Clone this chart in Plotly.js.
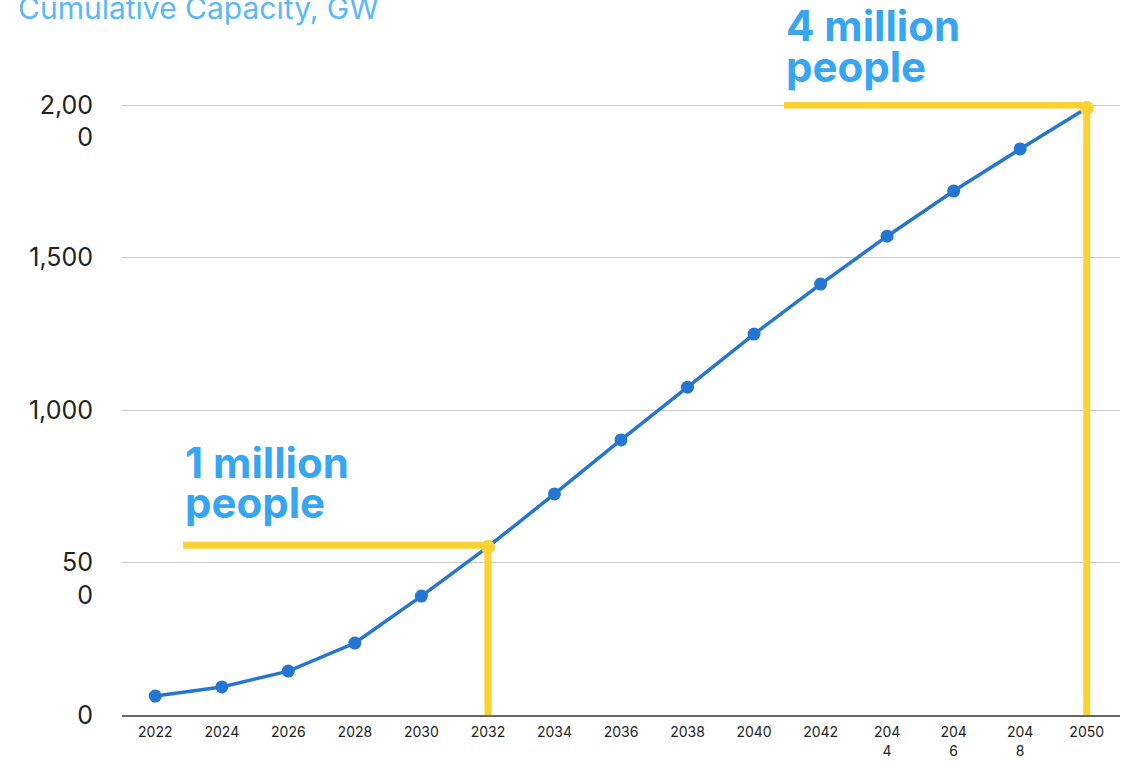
<!DOCTYPE html>
<html>
<head>
<meta charset="utf-8">
<script src="https://cdn.plot.ly/plotly-3.0.1.min.js"></script>
<style>html,body{margin:0;padding:0;background:#fff;}#chart{width:1126px;height:761px;}</style>
</head>
<body>
<div id="chart"></div>
<script>
// ---- data ----
const years = ['2022','2024','2026','2028','2030','2032','2034','2036','2038','2040','2042','2044','2046','2048','2050'];
const yearTickText = ['2022','2024','2026','2028','2030','2032','2034','2036','2038','2040','2042','204<br>4','204<br>6','204<br>8','2050'];
const capacityGW = [62, 92, 144, 236, 390, 551, 725, 902, 1075, 1249, 1413, 1570, 1718, 1856, 1990];
const yTickVals = [0, 500, 1000, 1500, 2000];
const yTickText = ['0', '\u00a0<br>50<br>0', '1,000', '1,500', '\u00a0<br>2,00<br>0'];
const milestoneYears = ['2032', '2050'];
const milestoneLevels = [557, 2000];
const milestoneLine1 = ['1 million', '4 million'];
const milestoneLine2 = ['people', 'people'];

const blue = '#2576D2';
const yellow = '#FCD232';
const labelBlue = '#36A5F2';

const milestoneIdx = milestoneYears.map(y => years.indexOf(y));
const milestoneCap = milestoneYears.map(y => capacityGW[years.indexOf(y)]);

// layout-only positions
const guideStart = [0.42, 9.45];          // category-index units
const plotTop = 102, plotBottom = 715;    // px
const pxToPaper = p => (plotBottom - p) / (plotBottom - plotTop);
const line1Top = [435, -2];               // px, top of annotation box
const line2Top = [475, 39];

const shapes = [];
milestoneIdx.forEach((ix, i) => {
  shapes.push({type:'line', xref:'x', yref:'y', x0: guideStart[i], x1: ix, y0: milestoneLevels[i], y1: milestoneLevels[i], line:{color:yellow, width:7}, layer:'above'});
  shapes.push({type:'line', xref:'x', yref:'y', x0: ix, x1: ix, y0: milestoneLevels[i], y1: 0, line:{color:yellow, width:7}, layer:'above'});
});

const labelFont = {family:'Inter, sans-serif', size:42, color:labelBlue, weight:700};
const annotations = [];
milestoneLine1.forEach((t, i) => {
  annotations.push({xref:'x', yref:'paper', x: guideStart[i], y: pxToPaper(line1Top[i]), xanchor:'left', yanchor:'top',
    text: t, showarrow:false, font: labelFont});
  annotations.push({xref:'x', yref:'paper', x: guideStart[i], y: pxToPaper(line2Top[i]), xanchor:'left', yanchor:'top',
    text: milestoneLine2[i], showarrow:false, font: labelFont});
});

const traces = [
  {x: years, y: capacityGW, type:'scatter', mode:'lines+markers',
   line:{color:blue, width:3.5}, marker:{color:blue, size:13}, cliponaxis:false, hoverinfo:'x+y'},
  {x: milestoneYears, y: milestoneCap, type:'scatter', mode:'markers',
   marker:{color:yellow, size:14}, cliponaxis:false, hoverinfo:'skip'}
];

const layout = {
  width:1126, height:761,
  margin:{l:122, r:6, t:plotTop, b:761-plotBottom},
  paper_bgcolor:'#fff', plot_bgcolor:'#fff',
  showlegend:false,
  font:{family:'Inter, sans-serif', color:'#222'},
  title:{text:'Cumulative Capacity, GW', font:{family:'Inter, sans-serif', size:30, color:'#5BB8F7'},
         xref:'container', yref:'container', x:18/1126, xanchor:'left', y:1-19/761, yanchor:'bottom'},
  xaxis:{type:'category', range:[-0.5,14.5], tickvals: years, ticktext: yearTickText,
         showgrid:false, showline:true, linecolor:'#666', linewidth:1.5, ticks:'', zeroline:false,
         ticklabelstandoff:4, tickfont:{size:14, color:'#222'}},
  yaxis:{range:[0,2010], tickvals:yTickVals, ticktext:yTickText, showgrid:true, gridcolor:'#c8c8c8', gridwidth:1,
         zeroline:false, showline:false, ticks:'', ticklabelstandoff:28,
         tickfont:{size:25, color:'#222'}},
  shapes: shapes,
  annotations: annotations
};

Plotly.newPlot('chart', traces, layout, {displayModeBar:false, staticPlot:true});
</script>
</body>
</html>
